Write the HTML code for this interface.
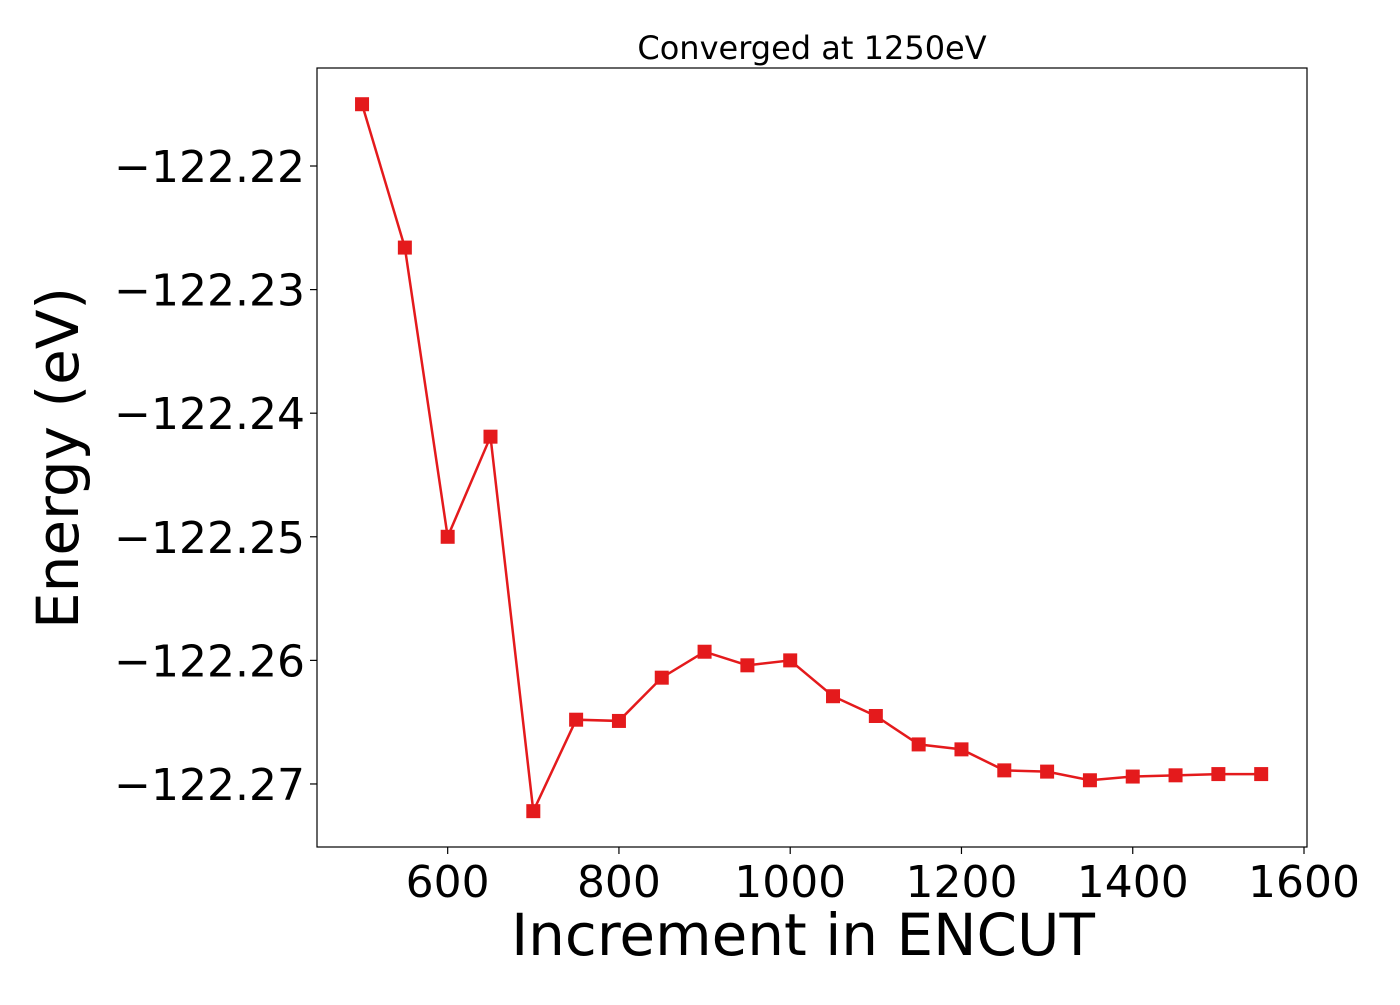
<!DOCTYPE html>
<html><head><meta charset="utf-8"><style>
body{margin:0;background:#fff;}
svg text{font-family:"DejaVu Sans","Liberation Sans",sans-serif;fill:#000;}
</style></head><body>
<svg id="chart" width="1400" height="1000" xmlns="http://www.w3.org/2000/svg">
<text x="812" y="59" font-size="32" text-anchor="middle">Converged at 1250eV</text>
<rect x="317" y="68" width="990" height="779" fill="none" stroke="#000" stroke-width="1.2"/>
<g id="xticks"></g><g id="yticks"></g>
<text x="803" y="955" font-size="58" text-anchor="middle">Increment in ENCUT</text>
<text transform="translate(78,458) rotate(-90)" font-size="58" text-anchor="middle">Energy (eV)</text>
<g id="series"></g>
</svg>
<script>
const encut=[500,550,600,650,700,750,800,850,900,950,1000,1050,1100,1150,1200,1250,1300,1350,1400,1450,1500,1550];
const energy=[-122.2150,-122.2266,-122.2500,-122.2419,-122.2722,-122.2648,-122.2649,-122.2614,-122.2593,-122.2604,-122.2600,-122.2629,-122.2645,-122.2668,-122.2672,-122.2689,-122.2690,-122.2697,-122.2694,-122.2693,-122.2692,-122.2692];
const xTicks=[600,800,1000,1200,1400,1600];
const yTicks=[-122.22,-122.23,-122.24,-122.25,-122.26,-122.27];
const L=317,R=1307,T=68,B=847;
const xMin=447.4,xMax=1603.5,yMin=-122.2751,yMax=-122.21207;
const sx=v=>L+(v-xMin)/(xMax-xMin)*(R-L);
const sy=v=>B-(v-yMin)/(yMax-yMin)*(B-T);
const NS="http://www.w3.org/2000/svg";
function mk(tag,attrs,parent){const e=document.createElementNS(NS,tag);for(const k in attrs)e.setAttribute(k,attrs[k]);parent.appendChild(e);return e;}
const xg=document.getElementById('xticks'),yg=document.getElementById('yticks'),sg=document.getElementById('series');
xTicks.forEach(t=>{
 const l=mk('line',{x1:sx(t),x2:sx(t),y1:B,y2:B+7,stroke:'#000','stroke-width':1.2},xg);
 
 
 const tx=mk('text',{x:sx(t),y:B+50,'font-size':44,'text-anchor':'middle'},xg);tx.textContent=t;
 
 
});
yTicks.forEach(t=>{
 const l=mk('line',{x1:L-7,x2:L,y1:sy(t),y2:sy(t),stroke:'#000','stroke-width':1.2},yg);
 
 
 const tx=mk('text',{x:L-12,y:sy(t)+16,'font-size':44,'text-anchor':'end'},yg);tx.textContent='\u2212'+Math.abs(t).toFixed(2);
 
 
});
const pts=encut.map((x,i)=>sx(x)+','+sy(energy[i])).join(' ');
const pl=mk('polyline',{points:pts,fill:'none',stroke:'#e41a1c','stroke-width':2.5},sg);


encut.forEach((x,i)=>{
 const r=mk('rect',{x:sx(x)-7,y:sy(energy[i])-7,width:14,height:14,fill:'#e41a1c'},sg);
 
 
});
</script>
</body></html>
